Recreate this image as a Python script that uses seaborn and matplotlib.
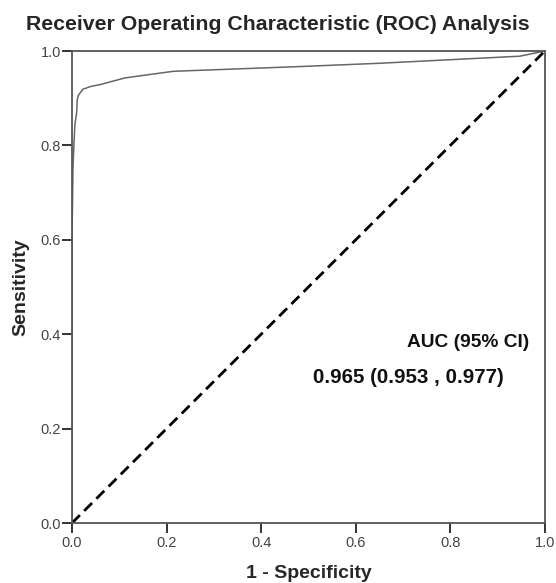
import pandas as pd
import matplotlib
matplotlib.use("Agg")
import matplotlib.pyplot as plt
import seaborn as sns

# ROC curve points
fpr = [0.0, 0.0, 0.002, 0.004, 0.006, 0.010, 0.011, 0.013, 0.017, 0.023, 0.04, 0.06,
       0.112, 0.214, 0.48, 0.65, 0.947, 1.0]
tpr = [0.0, 0.60, 0.75, 0.80, 0.843, 0.871, 0.896, 0.905, 0.911, 0.919, 0.925, 0.929,
       0.943, 0.957, 0.967, 0.974, 0.989, 1.0]
ref_x = [0.0, 1.0]
ref_y = [0.0, 1.0]
ticks = [0.0, 0.2, 0.4, 0.6, 0.8, 1.0]
auc_label = "AUC (95% CI)"
auc_text = "0.965 (0.953 , 0.977)"

sns.set_style("white")
plt.rcParams['font.family'] = ['Liberation Sans', 'DejaVu Sans']

fig = plt.figure(figsize=(5.56, 5.83), dpi=100)
ax = fig.add_axes([0.1295, 0.1029, 0.8505, 0.8096])

roc = pd.DataFrame({'fpr': fpr, 'tpr': tpr})
sns.lineplot(data=roc, x='fpr', y='tpr', sort=False, estimator=None,
             color='#666666', linewidth=1.1, ax=ax)
sns.lineplot(x=ref_x, y=ref_y, color='black', linewidth=2, ax=ax,
             linestyle=(0, (4, 2.2)))

ax.set_xlim(0, 1)
ax.set_ylim(0, 1)
ax.set_xticks(ticks)
ax.set_yticks(ticks)
ax.set_xticklabels([f"{t:.1f}" for t in ticks])
ax.set_yticklabels([f"{t:.1f}" for t in ticks])
ax.tick_params(bottom=True, left=True, direction='out', length=7, width=1.4,
               color='#333333', labelsize=10.5, labelcolor='#444444', pad=1)
ax.tick_params(axis='x', pad=2)
for s in ax.spines.values():
    s.set_color('#555555')
    s.set_linewidth(1.3)

fig.text(0.5, 0.958, "Receiver Operating Characteristic (ROC) Analysis",
         ha='center', va='center', fontsize=15.3, fontweight='bold')
ax.set_xlabel("1 - Specificity", fontsize=14, fontweight='bold', labelpad=11)
ax.set_ylabel("Sensitivity", fontsize=14, fontweight='bold', labelpad=8)

ax.text(0.968, 0.382, auc_label, transform=ax.transAxes, ha='right', va='center',
        fontsize=13.8, fontweight='bold', color='#111111')
ax.text(0.913, 0.308, auc_text, transform=ax.transAxes, ha='right', va='center',
        fontsize=14.8, fontweight='bold', color='#111111')

fig.savefig("out.png", dpi=100)
